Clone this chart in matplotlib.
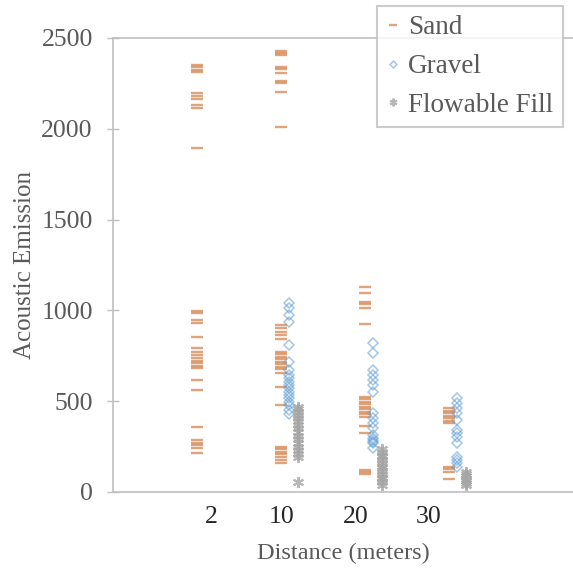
import matplotlib.pyplot as plt

plt.rcParams['font.family'] = ['Liberation Serif', 'DejaVu Serif']

# category index (1..4) and the distance labels shown under the axis
cat_pos = [1, 2, 3, 4]
dist_labels = ['2', '10', '20', '30']
label_pos = [1.17, 2.01, 2.89, 3.76]

sand = {
    1: [2351, 2340, 2324, 2313, 2197, 2181, 2164, 2131, 2115, 1894,
        998, 984, 947, 932, 855, 791, 772, 754, 736, 723, 708, 694, 681,
        617, 562, 360, 286, 272, 259, 244, 213],
    2: [2430, 2419, 2407, 2342, 2328, 2309, 2265, 2251, 2204, 2012,
        920, 901, 883, 865, 841, 773, 760, 745, 731, 718, 705, 690, 676,
        657, 580, 479, 250, 235, 222, 208, 194, 176, 161],
    3: [1131, 1094, 1048, 1035, 1012, 923, 525, 510, 497, 485, 470, 455,
        442, 428, 415, 363, 323, 121, 110, 99],
    4: [461, 448, 433, 419, 406, 393, 378, 139, 125, 112, 70],
}
gravel = {
    2: [1039, 1012, 975, 938, 810, 718, 672, 644, 626, 607, 589, 571, 552,
        534, 516, 497, 479, 452, 430],
    3: [819, 767, 672, 644, 617, 589, 552, 433, 406, 378, 351, 314, 300,
        286, 275, 268, 241],
    4: [516, 488, 461, 433, 396, 341, 323, 305, 268, 194, 176, 158, 139],
}
fill = {
    2: [470, 455, 440, 425, 410, 390, 370, 350, 330, 310, 290, 270, 250,
        230, 210, 195, 55],
    3: [235, 220, 205, 190, 175, 160, 145, 130, 115, 100, 85, 70, 55, 40],
    4: [110, 98, 86, 74, 62, 50, 40],
}

sand_col = '#C55A11'
gravel_col = '#5B9BD5'
fill_col = '#A5A5A5'
text_col = '#595959'

fig = plt.figure(figsize=(5.73, 5.68), dpi=100)
ax = fig.add_axes([113 / 573, 76 / 568, 460 / 573, 454 / 568])

for k in cat_pos:
    if k in sand:
        ax.plot([k] * len(sand[k]), sand[k], ls='none', marker='_', ms=8,
                mew=1.7, color=sand_col, alpha=0.55,
                label='Sand' if k == 1 else None)
    if k in gravel:
        ax.plot([k + 0.1] * len(gravel[k]), gravel[k], ls='none', marker='D',
                ms=5, mfc='none', mew=1.1, color=gravel_col, alpha=0.55,
                label='Gravel' if k == 2 else None)
    if k in fill:
        ax.plot([k + 0.2] * len(fill[k]), fill[k], ls='none',
                marker=(6, 2, 0), ms=8, mew=1.4, color=fill_col, alpha=0.8,
                label='Flowable Fill' if k == 2 else None)

ax.set_xlim(0, 460 / 84)
ax.set_ylim(0, 2500)
ax.set_yticks([0, 500, 1000, 1500, 2000, 2500])
ax.set_xticks(label_pos)
ax.set_xticklabels(dist_labels)

ax.spines['right'].set_visible(False)
for s in ['left', 'bottom', 'top']:
    ax.spines[s].set_color('#BFBFBF')
    ax.spines[s].set_linewidth(1.2)

ax.tick_params(axis='y', direction='inout', length=9, width=1,
               color='#BFBFBF', labelsize=18.5, labelcolor=text_col, pad=10)
ax.tick_params(axis='x', length=0, labelsize=18.5, labelcolor='#262626', pad=10)

ax.set_ylabel('Acoustic Emission', fontsize=18, color=text_col, labelpad=4)
ax.set_xlabel('Distance (meters)', fontsize=17.5, color=text_col, labelpad=11)

leg = fig.legend(loc='upper left', bbox_to_anchor=(377 / 573, 1 - 6 / 568),
                 fontsize=19.5, frameon=True, fancybox=False, handlelength=0.5,
                 handletextpad=0.3, labelspacing=0.5, borderpad=0.35,
                 borderaxespad=0, markerscale=0.7)
leg.get_frame().set_edgecolor('#BFBFBF')
leg.get_frame().set_linewidth(1.5)
for t in leg.get_texts():
    t.set_color(text_col)

fig.savefig('out.png', dpi=100)
